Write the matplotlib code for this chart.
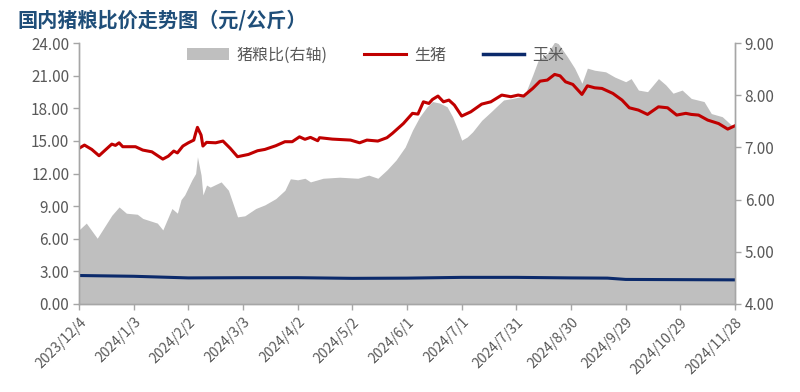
import numpy as np
import pandas as pd
import matplotlib
matplotlib.use('Agg')
from matplotlib import pyplot as plt
from matplotlib.patches import Patch
from matplotlib.lines import Line2D

plt.rcParams['font.family'] = ['Noto Sans CJK SC', 'DejaVu Sans']
plt.rcParams['axes.unicode_minus'] = False

start_date = '2023-12-04'

# 生猪 (元/公斤), 左轴
hog_days = [0, 3, 7, 11, 14, 18, 20, 22, 24, 31, 35, 40, 46, 49, 52, 54, 57, 60, 63, 64, 65, 67, 68,
            70, 75, 79, 83, 87, 93, 98, 102, 108, 113, 117, 121, 124, 127, 131, 132, 139, 149, 154,
            158, 164, 169, 172, 178, 183, 186, 189, 192, 194, 197, 200, 203, 206, 210, 215, 221, 226,
            232, 237, 241, 244, 249, 253, 257, 261, 264, 267, 271, 273, 276, 279, 283, 287, 293, 298,
            302, 307, 312, 318, 323, 328, 333, 336, 340, 345, 351, 356, 360]
hog_price = [14.32, 14.62, 14.22, 13.64, 14.10, 14.71, 14.59, 14.83, 14.47, 14.47, 14.16, 14.00,
             13.33, 13.60, 14.07, 13.90, 14.53, 14.83, 15.08, 15.70, 16.25, 15.54, 14.53, 14.87,
             14.83, 14.99, 14.32, 13.55, 13.76, 14.10, 14.22, 14.56, 14.93, 14.93, 15.38, 15.15,
             15.33, 15.02, 15.30, 15.17, 15.08, 14.83, 15.08, 14.99, 15.30, 15.70, 16.60, 17.54,
             17.47, 18.60, 18.45, 18.82, 19.13, 18.60, 18.76, 18.30, 17.29, 17.68, 18.39, 18.60,
             19.22, 19.07, 19.22, 19.13, 19.83, 20.50, 20.60, 21.12, 20.99, 20.44, 20.20, 19.83,
             19.28, 20.07, 19.89, 19.83, 19.37, 18.76, 18.05, 17.84, 17.44, 18.14, 18.05, 17.38,
             17.54, 17.44, 17.38, 16.92, 16.60, 16.09, 16.40]

# 玉米 (元/公斤), 左轴
corn_days = [0, 30, 60, 90, 120, 150, 180, 210, 240, 270, 290, 300, 330, 360]
corn_price = [2.62, 2.55, 2.40, 2.42, 2.42, 2.36, 2.38, 2.45, 2.45, 2.40, 2.38, 2.26, 2.24, 2.22]

# 猪粮比, 右轴
ratio_days = [0, 4, 10, 18, 22, 26, 32, 35, 43, 46, 51, 54, 56, 58, 62, 64, 65, 67, 68, 70, 72, 78,
              82, 87, 91, 97, 102, 108, 113, 116, 120, 124, 127, 134, 143, 153, 159, 164, 169, 174,
              179, 183, 187, 191, 194, 198, 202, 205, 208, 210, 213, 216, 221, 226, 229, 233, 238,
              242, 245, 249, 252, 257, 261, 263, 268, 272, 276, 279, 283, 289, 294, 300, 303, 307,
              312, 318, 322, 326, 331, 336, 343, 347, 353, 358, 360]
ratio = [5.42, 5.55, 5.26, 5.70, 5.86, 5.74, 5.72, 5.64, 5.55, 5.42, 5.83, 5.74, 6.00, 6.09, 6.38,
         6.50, 6.82, 6.47, 6.09, 6.28, 6.24, 6.34, 6.18, 5.67, 5.69, 5.83, 5.90, 6.02, 6.18, 6.40,
         6.38, 6.41, 6.34, 6.41, 6.43, 6.41, 6.47, 6.41, 6.57, 6.76, 7.01, 7.33, 7.59, 7.78, 7.88,
         7.85, 7.78, 7.59, 7.33, 7.14, 7.20, 7.30, 7.52, 7.68, 7.78, 7.91, 7.94, 7.97, 8.04, 8.39,
         8.67, 8.80, 9.02, 8.99, 8.74, 8.52, 8.23, 8.52, 8.48, 8.45, 8.35, 8.26, 8.32, 8.10, 8.07,
         8.32, 8.20, 8.04, 8.10, 7.94, 7.88, 7.65, 7.59, 7.43, 7.43]

tick_days = list(range(0, 361, 30))

c_gray = '#BFBFBF'
c_red = '#C00000'
c_blue = '#0B2A6B'
c_axis = '#A6A6A6'
c_text = '#595959'

t0 = pd.Timestamp(start_date)
hog_x = [t0 + pd.Timedelta(days=d) for d in hog_days]
corn_x = [t0 + pd.Timedelta(days=d) for d in corn_days]
ratio_x = [t0 + pd.Timedelta(days=d) for d in ratio_days]
tick_x = [t0 + pd.Timedelta(days=d) for d in tick_days]

fig = plt.figure(figsize=(8, 3.92), dpi=100)
ax = fig.add_axes([0.09875, 0.2245, 0.82, 0.6655])
ax2 = ax.twinx()

ax2.fill_between(ratio_x, ratio, 4, color=c_gray, linewidth=0)
ax2.set_ylim(4, 9)
ax2.set_yticks(np.arange(4, 9.01, 1))

ax.plot(hog_x, hog_price, color=c_red, linewidth=2.2)
ax.plot(corn_x, corn_price, color=c_blue, linewidth=2.2)
ax.set_ylim(0, 24)
ax.set_yticks(np.arange(0, 24.01, 3))
ax.set_xlim(tick_x[0], tick_x[-1])
ax.set_zorder(ax2.get_zorder() + 1)
ax.patch.set_visible(False)

ax.yaxis.set_major_formatter(matplotlib.ticker.FormatStrFormatter('%.2f'))
ax2.yaxis.set_major_formatter(matplotlib.ticker.FormatStrFormatter('%.2f'))

ax.set_xticks(tick_x)
ax.set_xticklabels(['%d/%d/%d' % (t.year, t.month, t.day) for t in tick_x],
                   rotation=45, ha='right', rotation_mode='anchor')

'''边框样式'''
for a in (ax, ax2):
    a.spines['top'].set_visible(False)
    for s in ('left', 'right', 'bottom'):
        a.spines[s].set_color(c_axis)
        a.spines[s].set_linewidth(1)
    a.tick_params(axis='both', direction='out', length=4, width=1, color=c_axis,
                  labelcolor=c_text, labelsize=11, pad=3)
ax.tick_params(axis='x', labelsize=10, pad=4)

handles = [Patch(facecolor=c_gray, edgecolor='none', label='猪粮比(右轴)'),
           Line2D([0], [0], color=c_red, linewidth=2.2, label='生猪'),
           Line2D([0], [0], color=c_blue, linewidth=2.5, label='玉米')]
leg = ax.legend(handles=handles, loc='upper left', bbox_to_anchor=(0.155, 1.01), ncol=3,
                frameon=False, fontsize=11.5, handlelength=2.6, handleheight=0.8,
                columnspacing=2.3, handletextpad=0.5, borderaxespad=0)
for t in leg.get_texts():
    t.set_color(c_text)

fig.text(0.022, 0.948, '国内猪粮比价走势图（元/公斤）', fontsize=14.5, fontweight='bold',
         color='#1F4E79', ha='left', va='center')

fig.savefig('out.png', dpi=100)
plt.close()
